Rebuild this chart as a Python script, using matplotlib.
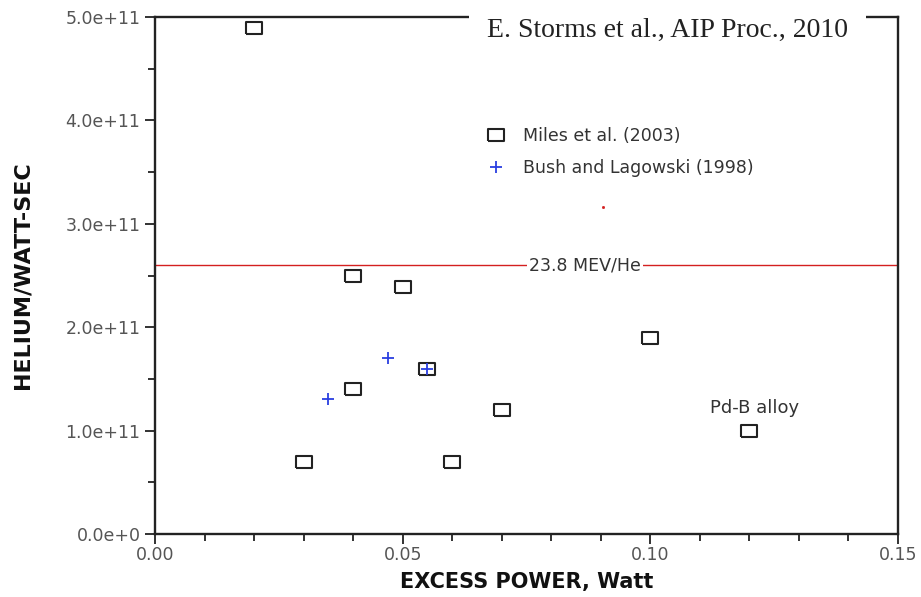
import numpy as np
import matplotlib
matplotlib.use("Agg")
import matplotlib.pyplot as plt
from matplotlib.ticker import MultipleLocator

# Miles et al. (2003)
miles_x = [0.020, 0.030, 0.040, 0.040, 0.050, 0.055, 0.060, 0.070, 0.100, 0.120]
miles_y = [4.89e11, 0.70e11, 2.50e11, 1.40e11, 2.39e11, 1.60e11, 0.70e11, 1.20e11, 1.90e11, 1.00e11]
# Bush and Lagowski (1998)
bush_x = [0.035, 0.047, 0.055]
bush_y = [1.31e11, 1.70e11, 1.60e11]
line_y = 2.60e11
xticks = [0.00, 0.05, 0.10, 0.15]
xtick_labels = ["0.00", "0.05", "0.10", "0.15"]
yticks = [0, 1e11, 2e11, 3e11, 4e11, 5e11]
ytick_labels = ["0.0e+0", "1.0e+11", "2.0e+11", "3.0e+11", "4.0e+11", "5.0e+11"]

fig = plt.figure(figsize=(9.21, 5.97), dpi=100)
ax = fig.add_axes([155/921, 63/597, 743/921, 517/597])

rect = [(-1, -0.7), (1, -0.7), (1, 0.7), (-1, 0.7), (-1, -0.7)]
ax.plot(miles_x, miles_y, linestyle="none", marker=rect, markersize=12,
        mfc="none", mec="#222222", mew=1.5, label="Miles et al. (2003)", zorder=4)
ax.plot(bush_x, bush_y, linestyle="none", marker="+", markersize=9,
        mec="#2a3fe0", mew=1.3, label="Bush and Lagowski (1998)", zorder=5)

ax.axhline(line_y, color="#d42020", lw=1)
ax.text(0.0868, line_y, "23.8 MEV/He", ha="center", va="center", fontsize=12.5,
        color="#333333", bbox=dict(facecolor="white", edgecolor="none", pad=1.5))
ax.plot([0.0905], [3.16e11], linestyle="none", marker="s", markersize=1, color="#d42020")
ax.text(0.1211, 1.22e11, "Pd-B alloy", ha="center", va="center", fontsize=13, color="#333333")

ax.text(0.1035, 4.87e11, "E. Storms et al., AIP Proc., 2010", ha="center", va="center",
        fontsize=20, family="Liberation Serif", color="#222222", zorder=6, clip_on=False,
        bbox=dict(facecolor="white", edgecolor="none", boxstyle="square,pad=0.65"))

leg = ax.legend(loc="upper left", bbox_to_anchor=(0.435, 0.80), frameon=False,
                fontsize=12.5, handletextpad=1.0, labelspacing=0.78, handlelength=1.2,
                labelcolor="#333333", borderaxespad=0)

ax.set_xlim(0, 0.15)
ax.set_ylim(0, 5e11)
ax.set_xticks(xticks, xtick_labels)
ax.set_yticks(yticks, ytick_labels)
ax.xaxis.set_minor_locator(MultipleLocator(0.01))
ax.yaxis.set_minor_locator(MultipleLocator(0.5e11))
ax.tick_params(which="both", direction="out", colors="#222222", labelcolor="#555555",
               labelsize=12.5, width=1.3)
ax.tick_params(which="major", length=7)
ax.tick_params(which="minor", length=5)
ax.tick_params(axis="x", which="major", pad=2)
for s in ax.spines.values():
    s.set_linewidth(1.7)
    s.set_color("#222222")

ax.set_xlabel("EXCESS POWER, Watt", fontsize=15, fontweight="bold", color="#111111")
ax.xaxis.set_label_coords(0.5, -0.0928)
ax.xaxis.label.set_va("center")
ax.set_ylabel("HELIUM/WATT-SEC", fontsize=16, fontweight="bold",
              family="DejaVu Sans", color="#111111")
ax.yaxis.set_label_coords(-0.178, 0.5)
ax.yaxis.label.set_va("center")

fig.savefig("out.png", dpi=100)
